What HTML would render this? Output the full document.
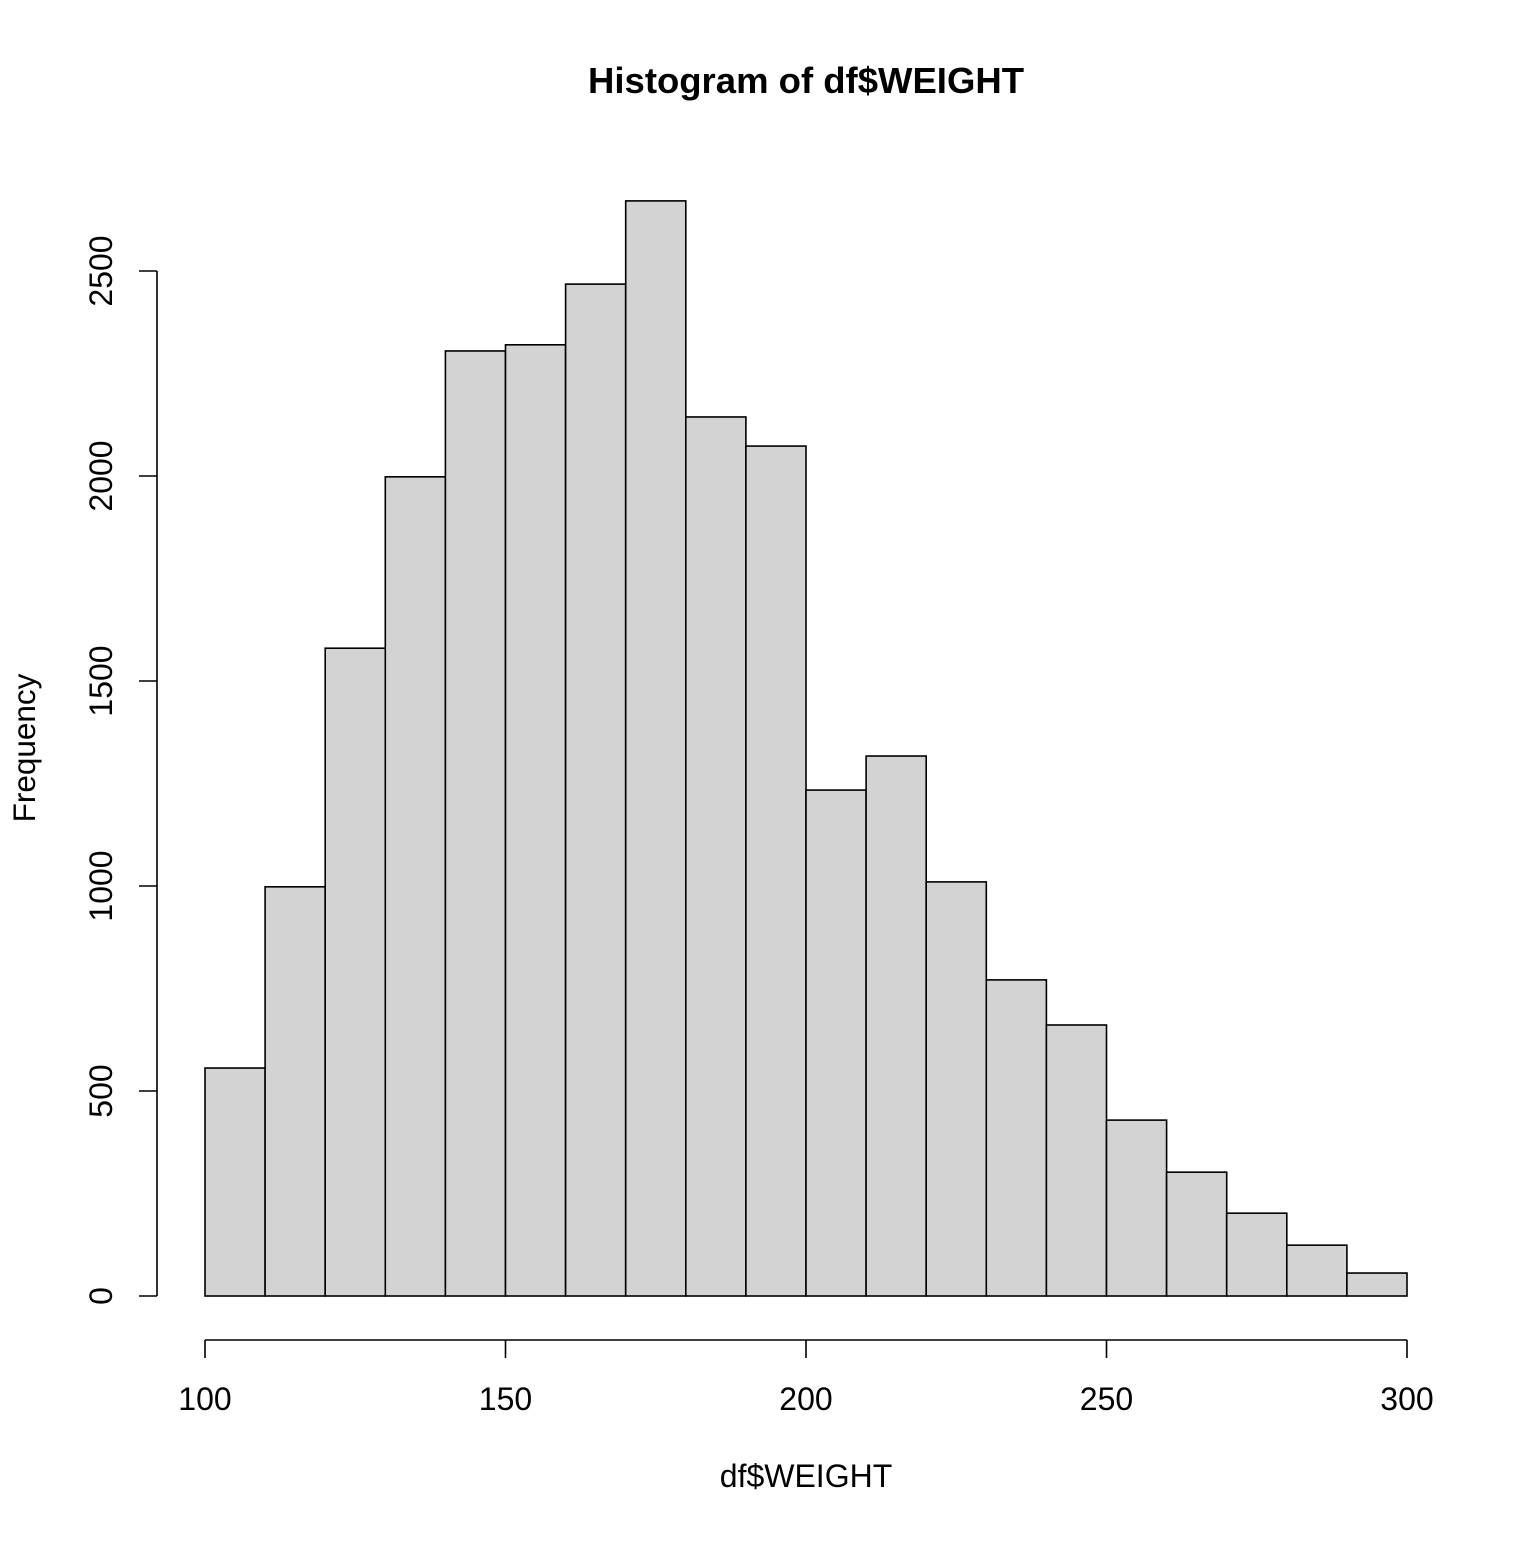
<!DOCTYPE html>
<html><head><meta charset="utf-8"><style>
html,body{margin:0;padding:0;background:#fff;}
svg text{font-family:"Liberation Sans",Arial,sans-serif;fill:#000;}
</style></head><body>
<svg id="chart" width="1536" height="1536" viewBox="0 0 1536 1536" xmlns="http://www.w3.org/2000/svg">
<rect width="1536" height="1536" fill="#fff"/>
<text x="806" y="93" font-size="36.5" font-weight="bold" text-anchor="middle">Histogram of df$WEIGHT</text>
<text x="806" y="1487" font-size="32" text-anchor="middle">df$WEIGHT</text>
<text transform="translate(35,748) rotate(-90)" font-size="31.5" text-anchor="middle">Frequency</text>
<g id="bars"></g><g id="xaxis"></g><g id="yaxis"></g>
</svg>
<script>
const binEdges = [100,110,120,130,140,150,160,170,180,190,200,210,220,230,240,250,260,270,280,290,300];
const counts = [556,998,1580,1998,2305,2320,2468,2671,2144,2073,1234,1317,1010,771,661,429,302,202,124,56];
const xTicks = [100,150,200,250,300];
const yTicks = [0,500,1000,1500,2000,2500];

const NS = "http://www.w3.org/2000/svg";
const xs = v => 205 + (v - 100) * (1202 / 200);
const ys = v => 1296 - v * (1025 / 2500);
function mk(tag, attrs, parent){const e=document.createElementNS(NS,tag);for(const k in attrs)e.setAttribute(k,attrs[k]);parent.appendChild(e);return e;}

const bars = document.getElementById('bars');
counts.forEach((c,i)=>{
  const x0=xs(binEdges[i]), x1=xs(binEdges[i+1]);
  const r=mk('rect',{x:x0,y:ys(c),width:x1-x0,height:ys(0)-ys(c),fill:'#d3d3d3',stroke:'#000','stroke-width':1.6},bars);
  
  
});

const xa = document.getElementById('xaxis');
const xl = mk('line',{x1:xs(xTicks[0]),x2:xs(xTicks[xTicks.length-1]),y1:1340,y2:1340,stroke:'#000','stroke-width':1.6},xa);


xTicks.forEach(t=>{
  const tk=mk('line',{x1:xs(t),x2:xs(t),y1:1340,y2:1358,stroke:'#000','stroke-width':1.6},xa);
  
  
  const tl=mk('text',{x:xs(t),y:1410,'font-size':32,'text-anchor':'middle'},xa);
  tl.textContent=t;
  
  
});

const ya = document.getElementById('yaxis');
const yl = mk('line',{x1:157,x2:157,y1:ys(yTicks[0]),y2:ys(yTicks[yTicks.length-1]),stroke:'#000','stroke-width':1.6},ya);


yTicks.forEach(t=>{
  const tk=mk('line',{x1:139,x2:157,y1:ys(t),y2:ys(t),stroke:'#000','stroke-width':1.6},ya);
  
  
  const tl=mk('text',{transform:`translate(112,${ys(t)}) rotate(-90)`,'font-size':32,'text-anchor':'middle'},ya);
  tl.textContent=t;
  
  
});
</script>
</body></html>
